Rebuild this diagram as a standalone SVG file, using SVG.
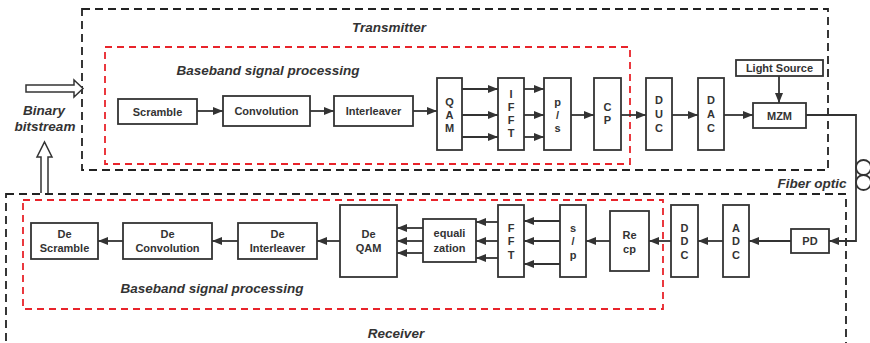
<svg xmlns="http://www.w3.org/2000/svg" width="870" height="343" viewBox="0 0 870 343">
<style>
.box{fill:#fff;stroke:#333;stroke-width:1.8}
.t{font-family:"Liberation Sans","Open Sans",sans-serif;font-weight:bold;font-size:11px;fill:#333;text-anchor:middle}
.lbl{font-family:"Liberation Sans","Open Sans",sans-serif;font-weight:bold;font-style:italic;font-size:13.5px;fill:#333}
.bk{fill:none;stroke:#222;stroke-width:1.8;stroke-dasharray:8 5}
.rd{fill:none;stroke:#e8242b;stroke-width:1.8;stroke-dasharray:7 5}
.c{fill:none;stroke:#333;stroke-width:1.8}
.ca{fill:none;stroke:#333;stroke-width:1.8;marker-end:url(#ah)}
.hol{fill:#fff;stroke:#333;stroke-width:1.5}
</style>
<defs>
<marker id="ah" markerUnits="userSpaceOnUse" markerWidth="10" markerHeight="8" refX="10" refY="4" orient="auto">
<path d="M0,0 L10,4 L0,8 z" fill="#333"/>
</marker>
</defs>
<rect width="870" height="343" fill="#fff"/>

<g id="frames">
<rect class="bk" x="82" y="9" width="746" height="161"/>
<rect class="rd" x="105" y="47" width="525" height="117"/>
<rect class="bk" x="6" y="194" width="840" height="150"/>
<rect class="rd" x="23" y="200" width="640" height="109"/>
<text class="lbl" x="389" y="32" text-anchor="middle">Transmitter</text>
<text class="lbl" x="268" y="75" text-anchor="middle">Baseband signal processing</text>
<text class="lbl" x="212" y="293" text-anchor="middle">Baseband signal processing</text>
<text class="lbl" x="396" y="338" text-anchor="middle">Receiver</text>
<text class="lbl" x="812" y="188" text-anchor="middle">Fiber optic</text>
<text class="lbl" x="44" y="115" text-anchor="middle">Binary</text>
<text class="lbl" x="45" y="131" text-anchor="middle">bitstream</text>
</g>

<g id="input-arrows">
<path class="hol" d="M26,85 L74,85 L74,80 L83,88.5 L74,97 L74,92 L26,92 z"/>
<path class="hol" d="M41,193 L41,157 L37,157 L44.5,142 L52,157 L48,157 L48,193"/>
</g>

<g id="scramble"><rect class="box" x="118" y="99" width="79" height="25"/><text class="t" x="157.5" y="115.5">Scramble</text></g>
<g id="convolution"><rect class="box" x="223" y="96" width="87" height="30"/><text class="t" x="266.5" y="115">Convolution</text></g>
<g id="interleaver"><rect class="box" x="334" y="96" width="79" height="30"/><text class="t" x="373.5" y="115">Interleaver</text></g>
<g id="qam"><rect class="box" x="437" y="78" width="25" height="72"/>
<text class="t" x="449.5" y="106">Q</text><text class="t" x="449.5" y="119">A</text><text class="t" x="449.5" y="132">M</text></g>
<g id="ifft"><rect class="box" x="498" y="78" width="26" height="72"/>
<text class="t" x="511" y="98">I</text><text class="t" x="511" y="111">F</text><text class="t" x="511" y="124">F</text><text class="t" x="511" y="137">T</text></g>
<g id="ps"><rect class="box" x="544" y="78" width="27" height="72"/>
<text class="t" x="557.5" y="106">p</text><text class="t" x="557.5" y="119">/</text><text class="t" x="557.5" y="132">s</text></g>
<g id="cp"><rect class="box" x="594" y="78" width="27" height="72"/>
<text class="t" x="607.5" y="111">C</text><text class="t" x="607.5" y="124">P</text></g>
<g id="duc"><rect class="box" x="646" y="78" width="26" height="72"/>
<text class="t" x="659" y="104">D</text><text class="t" x="659" y="118">U</text><text class="t" x="659" y="132">C</text></g>
<g id="dac"><rect class="box" x="698" y="78" width="26" height="72"/>
<text class="t" x="711" y="104">D</text><text class="t" x="711" y="118">A</text><text class="t" x="711" y="132">C</text></g>
<g id="light-source"><rect class="box" x="736" y="60" width="87" height="16"/><text class="t" x="779.5" y="72">Light Source</text></g>
<g id="mzm"><rect class="box" x="753" y="103" width="53" height="25"/><text class="t" x="779.5" y="119.5">MZM</text></g>

<g id="pd"><rect class="box" x="791" y="229" width="38" height="24"/><text class="t" x="810" y="245">PD</text></g>
<g id="adc"><rect class="box" x="723" y="205" width="26" height="72"/>
<text class="t" x="736" y="232">A</text><text class="t" x="736" y="245">D</text><text class="t" x="736" y="259">C</text></g>
<g id="ddc"><rect class="box" x="671" y="205" width="27" height="72"/>
<text class="t" x="684.5" y="232">D</text><text class="t" x="684.5" y="245">D</text><text class="t" x="684.5" y="259">C</text></g>
<g id="recp"><rect class="box" x="610" y="211" width="39" height="60"/>
<text class="t" x="629.5" y="239">Re</text><text class="t" x="629.5" y="253">cp</text></g>
<g id="sp"><rect class="box" x="560" y="205" width="26" height="72"/>
<text class="t" x="573" y="232">s</text><text class="t" x="573" y="245">/</text><text class="t" x="573" y="259">p</text></g>
<g id="fft"><rect class="box" x="498" y="205" width="26" height="72"/>
<text class="t" x="511" y="232">F</text><text class="t" x="511" y="245">F</text><text class="t" x="511" y="259">T</text></g>
<g id="equalization"><rect class="box" x="423" y="219" width="53" height="43"/>
<text class="t" x="449.5" y="237">equali</text><text class="t" x="449.5" y="252">zation</text></g>
<g id="deqam"><rect class="box" x="340" y="205" width="57" height="72"/>
<text class="t" x="368.5" y="238">De</text><text class="t" x="368.5" y="252">QAM</text></g>
<g id="deinterleaver"><rect class="box" x="238" y="223" width="79" height="36"/>
<text class="t" x="277.5" y="238">De</text><text class="t" x="277.5" y="252">Interleaver</text></g>
<g id="deconvolution"><rect class="box" x="123" y="223" width="89" height="36"/>
<text class="t" x="167.5" y="238">De</text><text class="t" x="167.5" y="252">Convolution</text></g>
<g id="descramble"><rect class="box" x="31" y="223" width="67" height="36"/>
<text class="t" x="64.5" y="238">De</text><text class="t" x="64.5" y="252">Scramble</text></g>

<g id="connectors">
<line class="ca" x1="197" y1="111" x2="223" y2="111"/>
<line class="ca" x1="310" y1="111" x2="334" y2="111"/>
<line class="ca" x1="413" y1="111" x2="437" y2="111"/>
<line class="ca" x1="462" y1="89" x2="498" y2="89"/>
<line class="ca" x1="462" y1="115" x2="498" y2="115"/>
<line class="ca" x1="462" y1="137" x2="498" y2="137"/>
<line class="ca" x1="524" y1="89" x2="544" y2="89"/>
<line class="ca" x1="524" y1="115" x2="544" y2="115"/>
<line class="ca" x1="524" y1="137" x2="544" y2="137"/>
<line class="ca" x1="571" y1="115" x2="594" y2="115"/>
<line class="ca" x1="621" y1="115" x2="646" y2="115"/>
<line class="ca" x1="672" y1="115" x2="698" y2="115"/>
<line class="ca" x1="724" y1="115" x2="753" y2="115"/>
<line class="ca" x1="779" y1="76" x2="779" y2="103"/>
<polyline class="ca" points="806,115 856,115 856,241 829,241"/>
<circle class="c" cx="863.5" cy="167.5" r="7.5"/>
<circle class="c" cx="863.5" cy="182.5" r="7.5"/>
<line class="ca" x1="791" y1="241" x2="749" y2="241"/>
<line class="ca" x1="723" y1="241" x2="698" y2="241"/>
<line class="ca" x1="671" y1="241" x2="649" y2="241"/>
<line class="ca" x1="610" y1="241" x2="586" y2="241"/>
<line class="ca" x1="560" y1="221" x2="524" y2="221"/>
<line class="ca" x1="560" y1="241" x2="524" y2="241"/>
<line class="ca" x1="560" y1="264" x2="524" y2="264"/>
<line class="ca" x1="498" y1="222" x2="476" y2="222"/>
<line class="ca" x1="498" y1="241" x2="476" y2="241"/>
<line class="ca" x1="498" y1="258" x2="476" y2="258"/>
<line class="ca" x1="423" y1="228" x2="397" y2="228"/>
<line class="ca" x1="423" y1="241" x2="397" y2="241"/>
<line class="ca" x1="423" y1="253" x2="397" y2="253"/>
<line class="ca" x1="340" y1="241" x2="317" y2="241"/>
<line class="ca" x1="238" y1="241" x2="212" y2="241"/>
<line class="ca" x1="123" y1="241" x2="98" y2="241"/>
</g>
</svg>
